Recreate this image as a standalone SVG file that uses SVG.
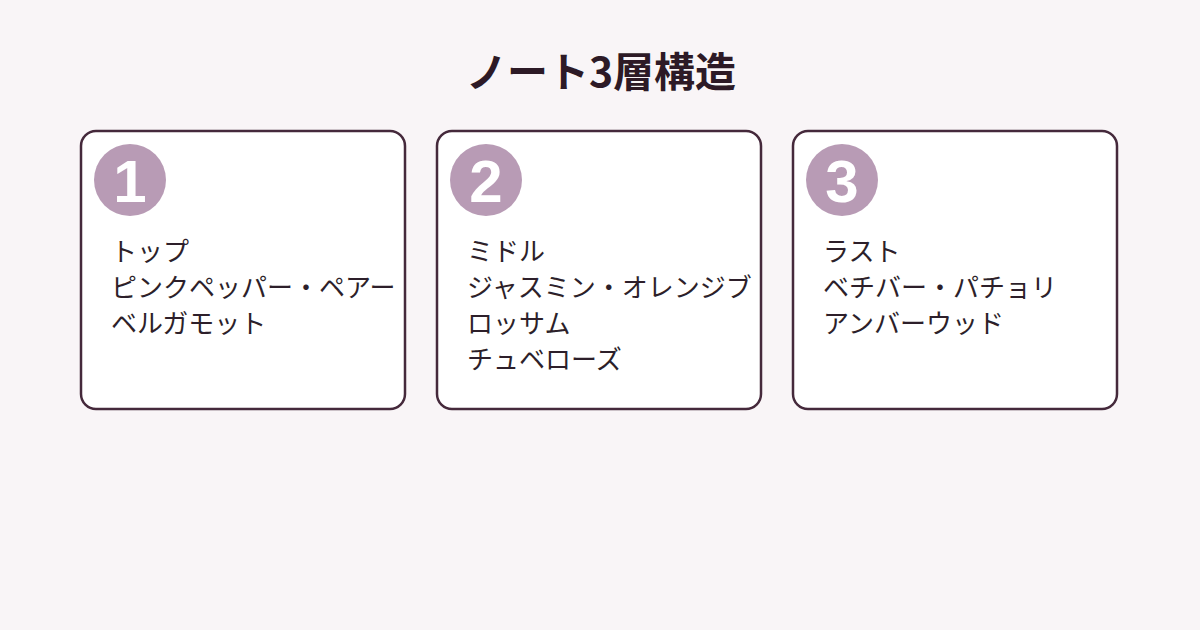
<svg xmlns="http://www.w3.org/2000/svg" width="1200" height="630" viewBox="0 0 1200 630">
<style>
.bg{fill:#f9f5f7}
.card{fill:#ffffff;stroke:#45293b;stroke-width:2.5}
.badge{fill:#b89bb5}
.num{font-family:"Liberation Sans",Arial,sans-serif;font-weight:bold;font-size:60px;fill:#ffffff;text-anchor:middle}
.title{font-family:"Noto Sans CJK JP",sans-serif;font-weight:bold;font-size:41px;fill:#2d1a26;text-anchor:middle}
.body{font-family:"Noto Sans CJK JP",sans-serif;font-size:26px;fill:#2d1f2a}
</style>
<rect class="bg" x="0" y="0" width="1200" height="630"/>
<text class="title" x="601" y="87">ノート3層構造</text>
<g id="connectors"></g>
<g id="node-top">
<rect class="card" x="81" y="131" width="324" height="278" rx="15"/>
<circle class="badge" cx="130" cy="180" r="36"/>
<text class="num" x="130" y="202">1</text>
<text class="body" x="111" y="261">トップ</text>
<text class="body" x="111" y="297">ピンクペッパー・ペアー</text>
<text class="body" x="111" y="333">ベルガモット</text>
</g>
<g id="node-middle">
<rect class="card" x="437" y="131" width="324" height="278" rx="15"/>
<circle class="badge" cx="486" cy="180" r="36"/>
<text class="num" x="486" y="202">2</text>
<text class="body" x="467" y="261">ミドル</text>
<text class="body" x="467" y="297">ジャスミン・オレンジブ</text>
<text class="body" x="467" y="333">ロッサム</text>
<text class="body" x="467" y="369">チュベローズ</text>
</g>
<g id="node-last">
<rect class="card" x="793" y="131" width="324" height="278" rx="15"/>
<circle class="badge" cx="842" cy="180" r="36"/>
<text class="num" x="842" y="202">3</text>
<text class="body" x="823" y="261">ラスト</text>
<text class="body" x="823" y="297">ベチバー・パチョリ</text>
<text class="body" x="823" y="333">アンバーウッド</text>
</g>
</svg>
